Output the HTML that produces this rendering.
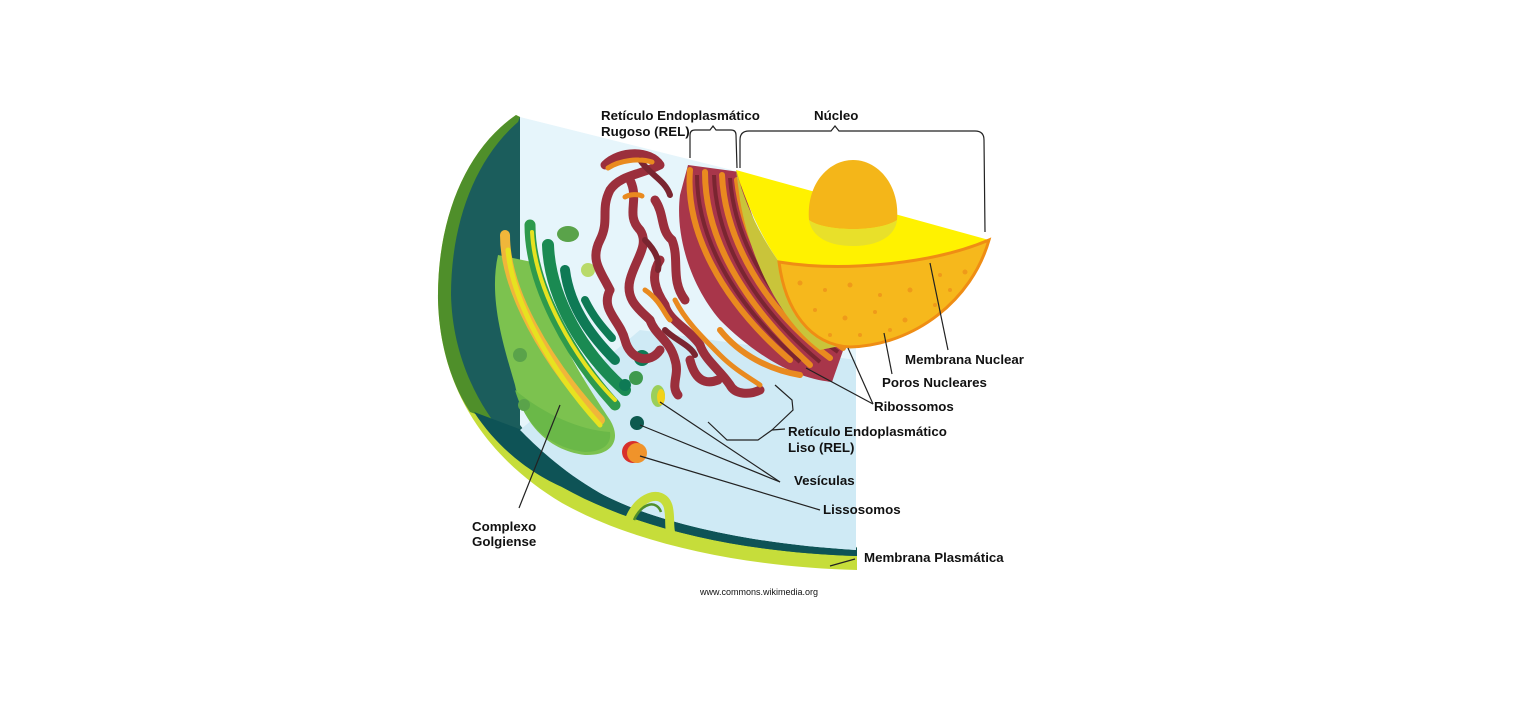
<!DOCTYPE html>
<html><head><meta charset="utf-8"><style>
html,body{margin:0;padding:0;background:#fff}
svg{display:block}
text{font-family:"Liberation Sans",Arial,sans-serif;font-weight:bold;font-size:13.3px;fill:#111}
</style></head><body>
<svg width="1535" height="703" viewBox="0 0 1535 703" xmlns="http://www.w3.org/2000/svg">
<defs>
<clipPath id="upper"><rect x="0" y="0" width="1535" height="0"/></clipPath>
</defs>
<!-- outer membrane (green) -->
<path d="M516,115 C465,150 437,220 438,300 C440,385 482,455 562,503 C642,548 760,568 857,570 L857,548 L520,117 Z" fill="#c6dd3a"/>
<path d="M516,115 C465,150 437,220 438,300 C439,345 452,385 470,412 L522,430 L520,117 Z" fill="#4f8f2a"/>
<!-- teal band -->
<path d="M518,122 C474,160 451,225 451,295 C453,372 492,440 562,487 C642,532 752,553 857,556 L857,548 L520,117 Z" fill="#1b5d5c"/>
<path d="M474,412 C500,452 535,475 562,487 C642,532 752,553 857,556 L857,548 L522,430 Z" fill="#0e5356"/>
<!-- cytoplasm -->
<path d="M520,117 L740,172 L856,345 L856,550 C740,543 650,520 600,493 C560,470 535,445 520,425 Z" fill="#e6f5fb"/>
<path d="M520,430 L640,330 L856,360 L856,550 C740,543 650,520 600,493 C560,470 535,445 520,430Z" fill="#cfeaf5"/>
<!-- membrane fold -->
<path d="M628,524 C636,496 662,488 668,506 C672,520 666,532 676,542" fill="none" stroke="#c6dd3a" stroke-width="9"/>
<path d="M634,520 C642,502 657,500 661,512" fill="none" stroke="#4f8f2a" stroke-width="2.5"/>
<!-- Golgi -->
<path d="M498,255 C488,300 505,350 515,385 C522,420 545,450 585,455 C612,456 622,440 610,420 C590,390 550,330 532,262 Z" fill="#7cc24f"/>
<path d="M515,390 C525,425 550,448 585,452 C600,452 612,446 610,432 C580,430 545,415 515,390Z" fill="#6ab848"/>
<g fill="none" stroke-linecap="round">
<path d="M505,235 C505,290 545,360 600,420" stroke="#f0b63a" stroke-width="10"/>
<path d="M508,250 C512,300 550,370 600,425" stroke="#e7e220" stroke-width="5"/>
<path d="M530,225 C530,285 570,355 615,405" stroke="#2e9a4c" stroke-width="11"/>
<path d="M532,232 C535,290 575,360 615,400" stroke="#e7e220" stroke-width="4"/>
<path d="M548,245 C550,300 585,355 625,390" stroke="#1a8a52" stroke-width="12"/>
<path d="M565,270 C570,310 595,340 615,360" stroke="#0e7a55" stroke-width="10"/>
<path d="M585,300 C595,320 605,330 612,338" stroke="#0e7a55" stroke-width="8"/>
</g>
<ellipse cx="568" cy="234" rx="11" ry="8" fill="#5aa34a"/>
<circle cx="588" cy="270" r="7" fill="#b9da6a"/>
<circle cx="520" cy="355" r="7" fill="#5aa34a"/>
<circle cx="524" cy="405" r="6" fill="#5aa34a"/>
<circle cx="642" cy="358" r="8" fill="#0e7a55"/>
<circle cx="636" cy="378" r="7" fill="#3e9a4e"/>
<circle cx="625" cy="385" r="6" fill="#0e7a55"/>
<!-- SER squiggles -->
<g fill="none" stroke="#9b2f3c" stroke-width="9" stroke-linecap="round" stroke-linejoin="round">
<path d="M605,165 C620,150 650,150 660,165 C640,175 620,175 610,190 C600,210 610,220 600,240 C590,260 600,270 610,290"/>
<path d="M630,180 C640,200 625,215 640,230 C650,245 635,260 630,280 C625,300 640,310 650,320"/>
<path d="M610,290 C600,310 620,320 625,340 C630,360 650,365 660,350"/>
<path d="M655,200 C665,215 660,230 672,240 C680,260 670,280 685,300"/>
<path d="M650,320 C655,335 670,340 675,360 C680,375 670,385 678,395"/>
<path d="M660,260 C650,275 655,290 665,305 C668,320 690,330 700,345"/>
<path d="M700,345 C705,360 720,370 730,385 C735,395 750,395 760,390"/>
<path d="M690,360 C695,380 705,385 718,380"/>
</g>
<g fill="none" stroke="#7a2530" stroke-width="6" stroke-linecap="round">
<path d="M640,160 C650,175 665,180 670,195"/>
<path d="M645,240 C655,250 660,260 658,270"/>
<path d="M665,330 C675,340 690,345 695,355"/>
</g>
<g fill="none" stroke="#e98a1f" stroke-width="5" stroke-linecap="round">
<path d="M608,168 C620,160 640,158 652,162"/>
<path d="M625,197 C630,194 638,194 642,196"/>
<path d="M645,290 C660,300 665,315 670,320"/>
<path d="M675,300 C685,320 700,335 720,355 C735,370 750,378 760,385"/>
</g>
<!-- RER -->
<path d="M688,165 L740,172 C752,235 790,300 845,345 L832,382 C790,378 750,350 720,320 C690,285 675,235 680,195 Z" fill="#a8364a"/>
<g fill="none" stroke="#e98a1f" stroke-width="6" stroke-linecap="round">
<path d="M690,170 C685,230 720,300 790,360"/>
<path d="M705,172 C705,235 740,300 810,365"/>
<path d="M722,175 C725,240 765,310 830,358"/>
<path d="M737,180 C745,250 785,310 843,348"/>
<path d="M720,330 C740,355 770,370 800,375"/>
</g>
<g fill="none" stroke="#7a2530" stroke-width="4">
<path d="M697,175 C697,235 730,300 800,362"/>
<path d="M714,175 C716,240 752,305 820,362"/>
<path d="M730,178 C735,245 775,310 838,352"/>
</g>
<!-- nucleus -->
<path d="M736,170 L989,240 C930,265 840,272 779,262 C760,235 745,200 736,170Z" fill="#fff200"/>
<path d="M736,170 C745,205 760,235 779,262 C782,300 800,330 840,346 L820,350 C780,320 750,260 740,200 Z" fill="#c9c43a"/>
<path d="M779,262 C840,272 930,265 989,240 C972,300 915,345 850,347 C810,345 785,310 779,262Z" fill="#f6b81c" stroke="#ef8d14" stroke-width="3"/>
<g fill="#ef9a1a">
<circle cx="800" cy="283" r="2.5"/><circle cx="825" cy="290" r="2"/><circle cx="850" cy="285" r="2.5"/><circle cx="880" cy="295" r="2"/><circle cx="910" cy="290" r="2.5"/><circle cx="940" cy="275" r="2"/><circle cx="965" cy="272" r="2.5"/><circle cx="815" cy="310" r="2"/><circle cx="845" cy="318" r="2.5"/><circle cx="875" cy="312" r="2"/><circle cx="905" cy="320" r="2.5"/><circle cx="935" cy="305" r="2"/><circle cx="830" cy="335" r="2"/><circle cx="860" cy="335" r="2"/><circle cx="890" cy="330" r="2"/><circle cx="950" cy="290" r="2"/>
</g>
<path d="M809,220 C806,185 828,160 853,160 C878,160 900,185 897,220 C880,232 825,232 809,220Z" fill="#f4b619"/>
<path d="M809,220 C825,232 880,232 897,220 C895,238 875,246 853,246 C830,246 812,238 809,220Z" fill="#e8e02a"/>
<!-- vesicles -->
<ellipse cx="658" cy="396" rx="7" ry="11" fill="#9bcf5a"/>
<ellipse cx="661" cy="397" rx="4" ry="8" fill="#f2d21a"/>
<circle cx="637" cy="423" r="7" fill="#0d5a4f"/>
<circle cx="633" cy="452" r="11" fill="#d8302a"/>
<circle cx="637" cy="453" r="10" fill="#f0932a"/>
<!-- leaders -->
<g fill="none" stroke="#222" stroke-width="1.2">
<path d="M690,158 L690,135 Q690,130 695,130 L710,130 L713,126 L716,130 L731,130 Q736,130 736,135 L737,168"/>
<path d="M740,168 L740,140 Q740,131 749,131 L831,131 L835,126 L839,131 L975,131 Q984,131 984,140 L985,232"/>
<path d="M930,263 L948,350"/><path d="M884,333 L892,374"/>
<path d="M873,404 L806,368"/><path d="M873,404 L848,348"/>
<path d="M708,422 L727,440 L758,440 L772,430 L785,429"/><path d="M772,430 L793,410 L792,400 L775,385"/>
<path d="M780,482 L660,402"/><path d="M780,482 L640,425"/>
<path d="M820,510 L640,456"/><path d="M519,508 L560,405"/>
<path d="M830,566 L855,559"/>
</g>
<!-- labels -->
<text x="601" y="120">Retículo Endoplasmático</text>
<text x="601" y="136">Rugoso (REL)</text>
<text x="814" y="120">Núcleo</text>
<text x="905" y="364">Membrana Nuclear</text>
<text x="882" y="387">Poros Nucleares</text>
<text x="874" y="411">Ribossomos</text>
<text x="788" y="436">Retículo Endoplasmático</text>
<text x="788" y="452">Liso (REL)</text>
<text x="794" y="485">Vesículas</text>
<text x="823" y="514">Lissosomos</text>
<text x="472" y="531">Complexo</text>
<text x="472" y="546">Golgiense</text>
<text x="864" y="562">Membrana Plasmática</text>
<text x="700" y="595" style="font-size:9px;font-weight:normal">www.commons.wikimedia.org</text>
</svg>
</body></html>
